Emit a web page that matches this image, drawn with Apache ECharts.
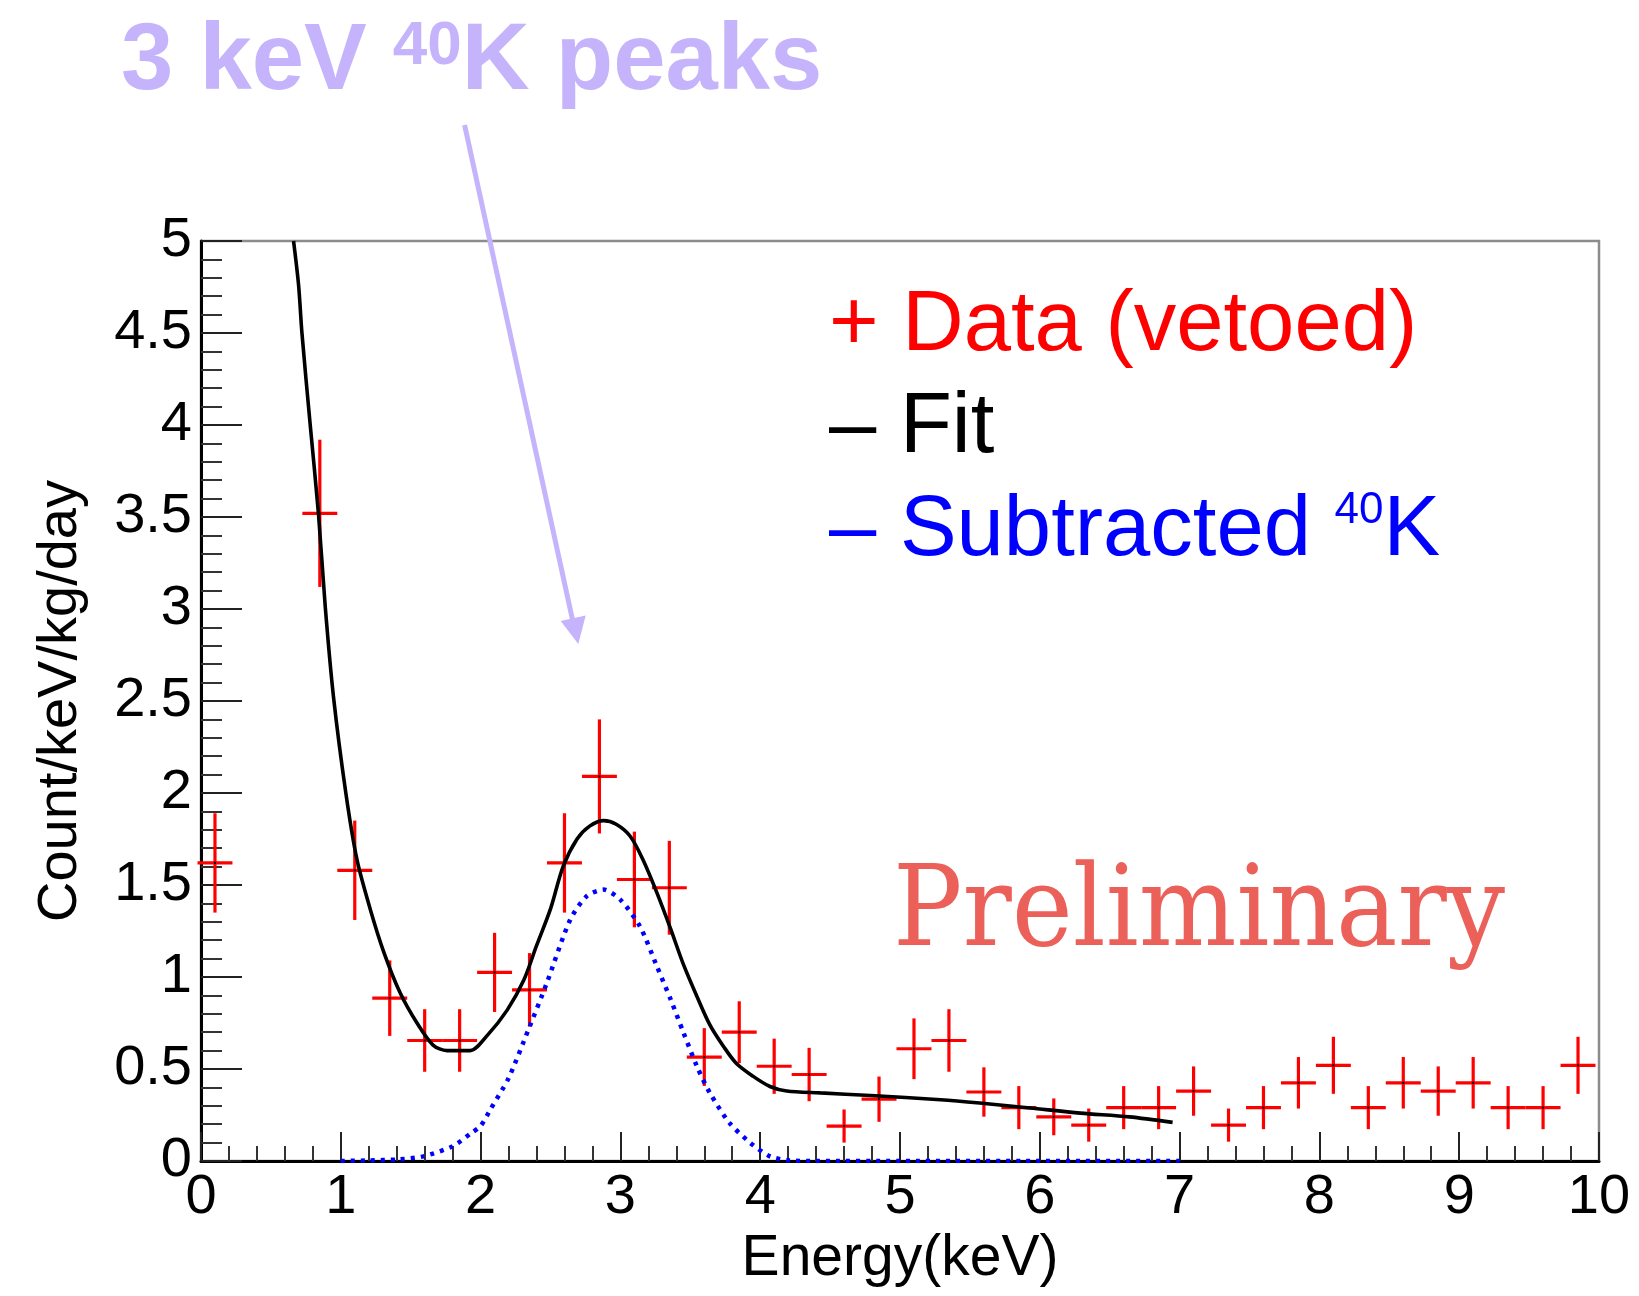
<!DOCTYPE html>
<html><head><meta charset="utf-8">
<script src="https://cdn.jsdelivr.net/npm/echarts@6/dist/echarts.min.js"></script>
<style>html,body{margin:0;padding:0;background:#fff}#c{width:1639px;height:1296px}</style>
</head><body><div id="c"></div>
<script>
// ---- data ----
const dataEnergy = [0.1, 0.85, 1.1, 1.35, 1.6, 1.85, 2.1, 2.35, 2.6, 2.85, 3.1, 3.35, 3.6, 3.85, 4.1, 4.35, 4.6, 4.85, 5.1, 5.35, 5.6, 5.85, 6.1, 6.35, 6.6, 6.85, 7.1, 7.35, 7.6, 7.85, 8.1, 8.35, 8.6, 8.85, 9.1, 9.35, 9.6, 9.85];
const dataRate = [1.62, 3.52, 1.58, 0.885, 0.655, 0.655, 1.025, 0.93, 1.62, 2.09, 1.53, 1.485, 0.565, 0.70, 0.515, 0.47, 0.19, 0.336, 0.61, 0.655, 0.375, 0.29, 0.24, 0.195, 0.29, 0.29, 0.38, 0.195, 0.29, 0.425, 0.52, 0.29, 0.425, 0.38, 0.425, 0.29, 0.29, 0.52];
const dataErr = [0.27, 0.40, 0.27, 0.205, 0.17, 0.17, 0.215, 0.20, 0.27, 0.31, 0.26, 0.255, 0.157, 0.168, 0.15, 0.145, 0.09, 0.123, 0.165, 0.17, 0.134, 0.117, 0.10, 0.09, 0.117, 0.117, 0.134, 0.09, 0.117, 0.14, 0.155, 0.117, 0.14, 0.134, 0.14, 0.117, 0.117, 0.155];
const binHalfWidth = 0.125;

const fitEnergy = [0.662, 0.698, 0.722, 0.78, 0.84, 0.889, 0.948, 1.036, 1.115, 1.21, 1.31, 1.425, 1.545, 1.66, 1.76, 1.925, 2.045, 2.19, 2.31, 2.40, 2.50, 2.59, 2.69, 2.78, 2.88, 2.97, 3.07, 3.16, 3.26, 3.36, 3.45, 3.55, 3.64, 3.74, 3.83, 3.95, 4.07, 4.19, 4.43, 4.79, 5.29, 5.57, 5.93, 6.29, 6.64, 6.95];
const fitRate = [5.0, 4.76, 4.5, 4.01, 3.52, 3.01, 2.52, 2.0, 1.64, 1.37, 1.13, 0.913, 0.75, 0.63, 0.60, 0.60, 0.68, 0.82, 0.985, 1.17, 1.37, 1.60, 1.75, 1.82, 1.85, 1.83, 1.765, 1.64, 1.46, 1.26, 1.07, 0.89, 0.74, 0.62, 0.53, 0.46, 0.405, 0.38, 0.37, 0.356, 0.333, 0.315, 0.288, 0.26, 0.24, 0.21];

const k40Energy = [1.0, 1.2, 1.4, 1.59, 1.80, 1.93, 2.0, 2.07, 2.2, 2.34, 2.47, 2.64, 2.76, 2.88, 3.0, 3.14, 3.26, 3.36, 3.45, 3.55, 3.64, 3.78, 3.93, 4.07, 4.21, 4.4, 5.0, 6.0, 7.0];
const k40Rate = [0, 0.003, 0.008, 0.025, 0.08, 0.15, 0.19, 0.28, 0.45, 0.71, 0.96, 1.31, 1.44, 1.475, 1.42, 1.275, 1.06, 0.877, 0.70, 0.51, 0.37, 0.207, 0.098, 0.025, 0.003, 0, 0, 0, 0];

const xTickMin = 0, xTickMax = 10, xTickStep = 1;
const yTickMin = 0, yTickMax = 5, yTickStep = 0.5;

const titleMain1 = '3 keV ', titleSup = '40', titleMain2 = 'K peaks';
const legendData = '+ Data (vetoed)', legendFit = '\u2013 Fit', legendK1 = '\u2013 Subtracted ', legendKSup = '40', legendK2 = 'K';
const watermark = 'Preliminary';

// ---- chart ----
const FONT = '"Liberation Sans", Arial, Helvetica, sans-serif';
const purple = '#c5b3fb';
const chart = echarts.init(document.getElementById('c'));

const ctx = document.createElement('canvas').getContext('2d');
ctx.font = '112px "DejaVu Serif"';
const wmScale = 612 / ctx.measureText(watermark).width;

const option = {
  animation: false,
  backgroundColor: '#fff',
  grid: { left: 201, top: 241, width: 1398, height: 920, show: true, borderColor: '#8c8c8c', borderWidth: 2.5, backgroundColor: 'transparent' },
  xAxis: {
    type: 'value', min: xTickMin, max: xTickMax, interval: xTickStep,
    axisLine: { show: true, onZero: false, lineStyle: { color: '#000', width: 3 } },
    axisTick: { show: true, inside: true, length: 29, lineStyle: { color: '#222', width: 2 } },
    minorTick: { show: true, splitNumber: 5, length: 15, lineStyle: { color: '#333', width: 2 } },
    splitLine: { show: false },
    axisLabel: { fontSize: 56, color: '#000', margin: 9, fontFamily: FONT },
    name: 'Energy(keV)', nameLocation: 'middle', nameGap: 62,
    nameTextStyle: { fontSize: 57, color: '#000', fontFamily: FONT }
  },
  yAxis: {
    type: 'value', min: yTickMin, max: yTickMax, interval: yTickStep,
    axisLine: { show: true, onZero: false, lineStyle: { color: '#000', width: 3 } },
    axisTick: { show: true, inside: true, length: 41, lineStyle: { color: '#222', width: 2 } },
    minorTick: { show: true, splitNumber: 5, length: 21, lineStyle: { color: '#333', width: 2 } },
    splitLine: { show: false },
    axisLabel: { fontSize: 56, color: '#000', margin: 9, fontFamily: FONT },
    name: 'Count/keV/kg/day', nameLocation: 'middle', nameGap: 112,
    nameTextStyle: { fontSize: 56, color: '#000', fontFamily: FONT }
  },
  series: [
    {
      type: 'custom', name: 'Data (vetoed)', z: 3,
      data: dataEnergy.map((e, i) => [e, dataRate[i], dataErr[i]]),
      encode: { x: 0, y: 1 },
      renderItem: function (params, api) {
        const x = api.value(0), y = api.value(1), e = api.value(2);
        const l = api.coord([x - binHalfWidth, y]);
        const r = api.coord([x + binHalfWidth, y]);
        const t = api.coord([x, y + e]);
        const b = api.coord([x, y - e]);
        const c = api.coord([x, y]);
        const st = { stroke: '#ff0000', lineWidth: 3.2 };
        return { type: 'group', children: [
          { type: 'line', shape: { x1: l[0], y1: l[1], x2: r[0], y2: r[1] }, style: st },
          { type: 'line', shape: { x1: t[0], y1: t[1], x2: b[0], y2: b[1] }, style: st },
          { type: 'rect', shape: { x: c[0] - 1, y: c[1] - 1, width: 2, height: 2 }, style: { fill: '#000' } }
        ] };
      }
    },
    {
      type: 'line', name: 'Fit', z: 4, showSymbol: false, smooth: 0.3,
      data: fitEnergy.map((e, i) => [e, fitRate[i]]),
      lineStyle: { color: '#000', width: 3.6 }
    },
    {
      type: 'line', name: 'Subtracted 40K', z: 5, showSymbol: false, smooth: 0.25,
      data: k40Energy.map((e, i) => [e, k40Rate[i]]),
      lineStyle: { color: '#0000ff', width: 4.5, type: [4, 6] }
    }
  ],
  graphic: [
    { type: 'text', x: 121, y: 16, style: {
      text: '{b|' + titleMain1 + '}{s|' + titleSup + '}{b|' + titleMain2 + '}',
      rich: {
        b: { fontSize: 94, fontWeight: 'bold', fontFamily: FONT, fill: purple, lineHeight: 94 },
        s: { fontSize: 62, fontWeight: 'bold', fontFamily: FONT, fill: purple, lineHeight: 76, verticalAlign: 'top' }
      } } },
    { type: 'line', shape: { x1: 464.6, y1: 125, x2: 573, y2: 622 }, style: { stroke: purple, lineWidth: 5 } },
    { type: 'polygon', shape: { points: [[560.7, 621], [585.7, 615.5], [578.3, 644]] }, style: { fill: purple } },
    { type: 'text', x: 829, y: 284, style: { text: legendData, fontSize: 85, fontFamily: FONT, fill: '#ff0000', verticalAlign: 'top', lineHeight: 85 } },
    { type: 'text', x: 829, y: 386, style: { text: legendFit, fontSize: 85, fontFamily: FONT, fill: '#000', verticalAlign: 'top', lineHeight: 85 } },
    { type: 'text', x: 829, y: 489, style: {
      text: '{n|' + legendK1 + '}{s|' + legendKSup + '}{n|' + legendK2 + '}',
      rich: {
        n: { fontSize: 85, fontFamily: FONT, fill: '#0000ff', lineHeight: 85 },
        s: { fontSize: 44, fontFamily: FONT, fill: '#0000ff', lineHeight: 82, verticalAlign: 'top' }
      } } },
    { type: 'text', x: 893, y: 860, scaleX: wmScale, style: { text: watermark, fontSize: 112, fontFamily: '"DejaVu Serif", serif', fill: '#ec605a', verticalAlign: 'top', lineHeight: 112 } }
  ]
};
chart.setOption(option);
</script>
</body></html>
